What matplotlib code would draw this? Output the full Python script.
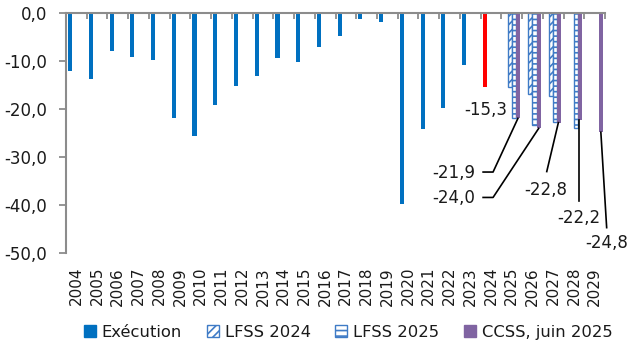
import matplotlib.pyplot as plt
import numpy as np
from matplotlib.patches import Patch
from matplotlib.ticker import FixedLocator, FuncFormatter

plt.rcParams['font.family'] = ['DejaVu Sans']
plt.rcParams['hatch.linewidth'] = 1.2

years = [str(y) for y in range(2004, 2030)]

# Exécution (2004-2024), 2024 drawn in red
execution = [-12.0, -13.6, -7.9, -9.1, -9.7, -21.8, -25.6, -19.1, -15.1, -13.0,
             -9.3, -10.1, -7.0, -4.8, -1.2, -1.7, -39.7, -24.2, -19.7, -10.7, -15.3]
lfss2024 = [-15.3, -16.9, -17.2]            # 2025-2027
lfss2025 = [-21.8, -23.3, -22.7, -24.0]     # 2025-2028
ccss = [-21.9, -24.0, -22.8, -22.2, -24.8]  # 2025-2029

c_exec = '#0070C0'
c_red = '#FF0000'
c_hatch = '#3F7BC6'
c_ccss = '#8064A2'
c_axis = '#8C8C8C'
c_text = '#1A1A1A'

fig = plt.figure(figsize=(6.39, 3.61), dpi=100)
ax = fig.add_axes([0.1033, 0.299, 0.8435, 0.664])

w = 0.2
x = np.arange(len(years))
i25 = years.index('2025')

exec_colors = [c_exec] * (len(execution) - 1) + [c_red]
ax.bar(x[:len(execution)] - 0.3, execution, w, color=exec_colors, linewidth=0)
ax.bar(x[i25:i25 + len(lfss2024)] - 0.1, lfss2024, w, facecolor='white',
       edgecolor=c_hatch, hatch='////', linewidth=1.0)
ax.bar(x[i25:i25 + len(lfss2025)] + 0.1, lfss2025, w, facecolor='white',
       edgecolor=c_hatch, hatch='---', linewidth=1.0)
ax.bar(x[i25:i25 + len(ccss)] + 0.3, ccss, w, color=c_ccss, linewidth=0)

ax.set_xlim(-0.5, len(years) - 0.5)
ax.set_ylim(-50, 0)
ax.set_yticks(np.arange(-50, 1, 10))
ax.yaxis.set_major_formatter(FuncFormatter(
    lambda v, p: f"{v:.1f}".replace('.', ',').replace('-0,0', '0,0')))

ax.set_xticks(x)
ax.set_xticklabels(years, rotation=90)
ax.xaxis.set_minor_locator(FixedLocator(np.arange(-0.5, len(years), 1)))
ax.tick_params(axis='x', which='major', length=0, pad=10, labelsize=11,
               colors=c_text)
ax.tick_params(axis='x', which='minor', top=True, bottom=False,
               direction='in', length=4.5, width=1.3, color=c_axis)
ax.tick_params(axis='y', which='major', direction='out', length=4.8,
               width=1.3, color=c_axis, labelsize=12, labelcolor=c_text, pad=8.6)

for s in ['bottom', 'right']:
    ax.spines[s].set_visible(False)
for s in ['top', 'left']:
    ax.spines[s].set_color(c_axis)
    ax.spines[s].set_linewidth(1.5)

# data labels
lab = dict(fontsize=12, color=c_text)
line = dict(color='black', lw=1.2)
ax.text(20.77, -20.1, '-15,3', ha='right', va='center', **lab)

ax.text(19.23, -33.3, '-21,9', ha='right', va='center', **lab)
ax.plot([19.62, 20.1, x[i25] + 0.3], [-33.1, -33.1, ccss[0]], **line)
ax.text(19.23, -38.5, '-24,0', ha='right', va='center', **lab)
ax.plot([19.62, 20.1, x[i25 + 1] + 0.3], [-38.4, -38.4, ccss[1]], **line)
ax.text(22.65, -36.8, '-22,8', ha='center', va='center', **lab)
ax.plot([22.69, x[i25 + 2] + 0.25], [-33.0, ccss[2]], **line)
ax.text(24.25, -42.6, '-22,2', ha='center', va='center', **lab)
ax.plot([24.25, 24.25], [-39.2, ccss[3]], **line)
ax.text(25.6, -47.9, '-24,8', ha='center', va='center', clip_on=False, **lab)
ax.plot([25.58, x[i25 + 4] + 0.3], [-44.7, ccss[4]], clip_on=False, **line)

handles = [
    Patch(facecolor=c_exec, edgecolor=c_exec, label='Exécution'),
    Patch(facecolor='white', edgecolor=c_hatch, hatch='////', label='LFSS 2024'),
    Patch(facecolor='white', edgecolor=c_hatch, hatch='---', label='LFSS 2025'),
    Patch(facecolor=c_ccss, edgecolor=c_ccss, label='CCSS, juin 2025'),
]
fig.legend(handles=handles, loc='center', bbox_to_anchor=(0.545, 0.08), ncol=4,
           frameon=False, fontsize=11.8, handlelength=0.73, handleheight=0.73,
           handletextpad=0.37, columnspacing=1.5, labelcolor=c_text,
           borderaxespad=0, borderpad=0)

fig.savefig('out.png', dpi=100)
